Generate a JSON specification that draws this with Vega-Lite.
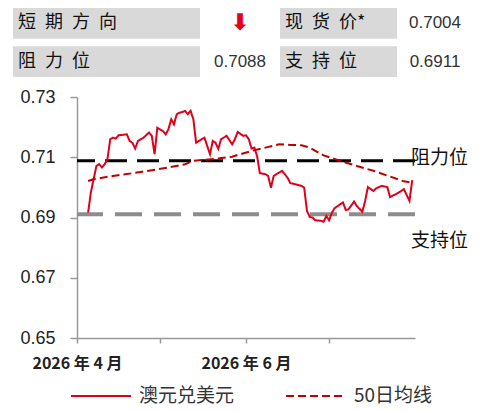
{
  "$schema": "https://vega.github.io/schema/vega-lite/v6.json",
  "padding": {"left": 13, "top": 8, "right": 0, "bottom": 0},
  "background": "white",
  "config": {"view": {"stroke": null}, "font": "Noto Sans CJK SC"},
  "datasets": {
    "table": [
      {"col": "c1", "row": "r1", "text": "短\u2002期\u2002方\u2002向"},
      {"col": "c1", "row": "r2", "text": "阻\u2002力\u2002位"},
      {"col": "c2", "row": "r1", "text": "⬇"},
      {"col": "c2", "row": "r2", "text": "0.7088"},
      {"col": "c3", "row": "r1", "text": "现\u2002货\u2002价*"},
      {"col": "c3", "row": "r2", "text": "支\u2002持\u2002位"},
      {"col": "c4", "row": "r1", "text": "0.7004"},
      {"col": "c4", "row": "r2", "text": "0.6911"}
    ],
    "levels": [
      {"name": "阻力位", "value": 0.7088},
      {"name": "支持位", "value": 0.6911}
    ],
    "lines": [
      {"series": "澳元兑美元", "date": "2026-04-05", "value": 0.6916},
      {"series": "澳元兑美元", "date": "2026-04-06", "value": 0.6983},
      {"series": "澳元兑美元", "date": "2026-04-07", "value": 0.7027},
      {"series": "澳元兑美元", "date": "2026-04-08", "value": 0.7071},
      {"series": "澳元兑美元", "date": "2026-04-09", "value": 0.7077},
      {"series": "澳元兑美元", "date": "2026-04-10", "value": 0.7066},
      {"series": "澳元兑美元", "date": "2026-04-11", "value": 0.7077},
      {"series": "澳元兑美元", "date": "2026-04-12", "value": 0.7095},
      {"series": "澳元兑美元", "date": "2026-04-13", "value": 0.7160},
      {"series": "澳元兑美元", "date": "2026-04-14", "value": 0.7165},
      {"series": "澳元兑美元", "date": "2026-04-15", "value": 0.7162},
      {"series": "澳元兑美元", "date": "2026-04-16", "value": 0.7173},
      {"series": "澳元兑美元", "date": "2026-04-18", "value": 0.7175},
      {"series": "澳元兑美元", "date": "2026-04-19", "value": 0.7176},
      {"series": "澳元兑美元", "date": "2026-04-20", "value": 0.7154},
      {"series": "澳元兑美元", "date": "2026-04-21", "value": 0.7148},
      {"series": "澳元兑美元", "date": "2026-04-22", "value": 0.7129},
      {"series": "澳元兑美元", "date": "2026-04-23", "value": 0.7154},
      {"series": "澳元兑美元", "date": "2026-04-25", "value": 0.7165},
      {"series": "澳元兑美元", "date": "2026-04-27", "value": 0.7182},
      {"series": "澳元兑美元", "date": "2026-04-28", "value": 0.7171},
      {"series": "澳元兑美元", "date": "2026-04-29", "value": 0.7110},
      {"series": "澳元兑美元", "date": "2026-04-30", "value": 0.7198},
      {"series": "澳元兑美元", "date": "2026-05-02", "value": 0.7187},
      {"series": "澳元兑美元", "date": "2026-05-03", "value": 0.7176},
      {"series": "澳元兑美元", "date": "2026-05-04", "value": 0.7193},
      {"series": "澳元兑美元", "date": "2026-05-05", "value": 0.7226},
      {"series": "澳元兑美元", "date": "2026-05-06", "value": 0.7209},
      {"series": "澳元兑美元", "date": "2026-05-07", "value": 0.7243},
      {"series": "澳元兑美元", "date": "2026-05-08", "value": 0.7248},
      {"series": "澳元兑美元", "date": "2026-05-09", "value": 0.7250},
      {"series": "澳元兑美元", "date": "2026-05-10", "value": 0.7254},
      {"series": "澳元兑美元", "date": "2026-05-11", "value": 0.7243},
      {"series": "澳元兑美元", "date": "2026-05-12", "value": 0.7254},
      {"series": "澳元兑美元", "date": "2026-05-13", "value": 0.7226},
      {"series": "澳元兑美元", "date": "2026-05-14", "value": 0.7148},
      {"series": "澳元兑美元", "date": "2026-05-16", "value": 0.7160},
      {"series": "澳元兑美元", "date": "2026-05-17", "value": 0.7165},
      {"series": "澳元兑美元", "date": "2026-05-19", "value": 0.7110},
      {"series": "澳元兑美元", "date": "2026-05-20", "value": 0.7154},
      {"series": "澳元兑美元", "date": "2026-05-21", "value": 0.7148},
      {"series": "澳元兑美元", "date": "2026-05-22", "value": 0.7128},
      {"series": "澳元兑美元", "date": "2026-05-23", "value": 0.7160},
      {"series": "澳元兑美元", "date": "2026-05-25", "value": 0.7171},
      {"series": "澳元兑美元", "date": "2026-05-27", "value": 0.7143},
      {"series": "澳元兑美元", "date": "2026-05-28", "value": 0.7160},
      {"series": "澳元兑美元", "date": "2026-05-29", "value": 0.7184},
      {"series": "澳元兑美元", "date": "2026-05-31", "value": 0.7171},
      {"series": "澳元兑美元", "date": "2026-06-01", "value": 0.7173},
      {"series": "澳元兑美元", "date": "2026-06-02", "value": 0.7160},
      {"series": "澳元兑美元", "date": "2026-06-03", "value": 0.7129},
      {"series": "澳元兑美元", "date": "2026-06-04", "value": 0.7132},
      {"series": "澳元兑美元", "date": "2026-06-05", "value": 0.7104},
      {"series": "澳元兑美元", "date": "2026-06-06", "value": 0.7047},
      {"series": "澳元兑美元", "date": "2026-06-08", "value": 0.7044},
      {"series": "澳元兑美元", "date": "2026-06-09", "value": 0.7038},
      {"series": "澳元兑美元", "date": "2026-06-10", "value": 0.6999},
      {"series": "澳元兑美元", "date": "2026-06-11", "value": 0.7038},
      {"series": "澳元兑美元", "date": "2026-06-12", "value": 0.7044},
      {"series": "澳元兑美元", "date": "2026-06-14", "value": 0.7055},
      {"series": "澳元兑美元", "date": "2026-06-16", "value": 0.7032},
      {"series": "澳元兑美元", "date": "2026-06-17", "value": 0.7014},
      {"series": "澳元兑美元", "date": "2026-06-19", "value": 0.7010},
      {"series": "澳元兑美元", "date": "2026-06-21", "value": 0.7005},
      {"series": "澳元兑美元", "date": "2026-06-22", "value": 0.6999},
      {"series": "澳元兑美元", "date": "2026-06-23", "value": 0.6922},
      {"series": "澳元兑美元", "date": "2026-06-24", "value": 0.6902},
      {"series": "澳元兑美元", "date": "2026-06-25", "value": 0.6900},
      {"series": "澳元兑美元", "date": "2026-06-26", "value": 0.6891},
      {"series": "澳元兑美元", "date": "2026-06-28", "value": 0.6889},
      {"series": "澳元兑美元", "date": "2026-06-29", "value": 0.6886},
      {"series": "澳元兑美元", "date": "2026-06-30", "value": 0.6905},
      {"series": "澳元兑美元", "date": "2026-07-01", "value": 0.6891},
      {"series": "澳元兑美元", "date": "2026-07-02", "value": 0.6916},
      {"series": "澳元兑美元", "date": "2026-07-03", "value": 0.6931},
      {"series": "澳元兑美元", "date": "2026-07-05", "value": 0.6944},
      {"series": "澳元兑美元", "date": "2026-07-06", "value": 0.6950},
      {"series": "澳元兑美元", "date": "2026-07-07", "value": 0.6925},
      {"series": "澳元兑美元", "date": "2026-07-08", "value": 0.6927},
      {"series": "澳元兑美元", "date": "2026-07-10", "value": 0.6953},
      {"series": "澳元兑美元", "date": "2026-07-11", "value": 0.6938},
      {"series": "澳元兑美元", "date": "2026-07-13", "value": 0.6919},
      {"series": "澳元兑美元", "date": "2026-07-14", "value": 0.6955},
      {"series": "澳元兑美元", "date": "2026-07-15", "value": 0.7001},
      {"series": "澳元兑美元", "date": "2026-07-17", "value": 0.6988},
      {"series": "澳元兑美元", "date": "2026-07-18", "value": 0.6997},
      {"series": "澳元兑美元", "date": "2026-07-20", "value": 0.7005},
      {"series": "澳元兑美元", "date": "2026-07-22", "value": 0.7001},
      {"series": "澳元兑美元", "date": "2026-07-23", "value": 0.6968},
      {"series": "澳元兑美元", "date": "2026-07-25", "value": 0.6977},
      {"series": "澳元兑美元", "date": "2026-07-27", "value": 0.6988},
      {"series": "澳元兑美元", "date": "2026-07-28", "value": 0.6994},
      {"series": "澳元兑美元", "date": "2026-07-30", "value": 0.6955},
      {"series": "澳元兑美元", "date": "2026-07-31", "value": 0.7024},
      {"series": "50日均线", "date": "2026-04-05", "value": 0.7021},
      {"series": "50日均线", "date": "2026-04-07", "value": 0.7027},
      {"series": "50日均线", "date": "2026-04-12", "value": 0.7035},
      {"series": "50日均线", "date": "2026-04-24", "value": 0.7051},
      {"series": "50日均线", "date": "2026-05-04", "value": 0.7066},
      {"series": "50日均线", "date": "2026-05-10", "value": 0.7077},
      {"series": "50日均线", "date": "2026-05-13", "value": 0.7088},
      {"series": "50日均线", "date": "2026-05-21", "value": 0.7095},
      {"series": "50日均线", "date": "2026-05-27", "value": 0.7102},
      {"series": "50日均线", "date": "2026-06-03", "value": 0.7121},
      {"series": "50日均线", "date": "2026-06-08", "value": 0.7132},
      {"series": "50日均线", "date": "2026-06-13", "value": 0.7143},
      {"series": "50日均线", "date": "2026-06-17", "value": 0.7141},
      {"series": "50日均线", "date": "2026-06-21", "value": 0.7140},
      {"series": "50日均线", "date": "2026-06-24", "value": 0.7132},
      {"series": "50日均线", "date": "2026-06-29", "value": 0.7106},
      {"series": "50日均线", "date": "2026-07-05", "value": 0.7088},
      {"series": "50日均线", "date": "2026-07-09", "value": 0.7077},
      {"series": "50日均线", "date": "2026-07-11", "value": 0.7071},
      {"series": "50日均线", "date": "2026-07-17", "value": 0.7055},
      {"series": "50日均线", "date": "2026-07-23", "value": 0.7036},
      {"series": "50日均线", "date": "2026-07-28", "value": 0.7020},
      {"series": "50日均线", "date": "2026-07-31", "value": 0.7016}
    ]
  },
  "vconcat": [
    {
      "hconcat": [
        {
          "width": 187, "height": 69,
          "data": {"name": "table"},
          "transform": [{"filter": "datum.col == 'c1'"}],
          "encoding": {
            "y": {"field": "row", "type": "nominal", "axis": null, "scale": {"type": "band", "paddingInner": 0.2, "paddingOuter": 0}},
            "x": {"field": "col", "type": "nominal", "axis": null, "scale": {"type": "band", "paddingInner": 0, "paddingOuter": 0}}
          },
          "layer": [
            {"mark": {"type": "rect", "color": "#d9d9d9"}},
            {"mark": {"type": "text", "align": "left", "dx": 5, "fontSize": 18, "font": "Noto Sans CJK SC", "color": "#111"},
             "encoding": {"x": {"field": "col", "type": "nominal", "bandPosition": 0, "axis": null}, "text": {"field": "text"}}}
          ]
        },
        {
          "width": 80, "height": 69,
          "data": {"name": "table"},
          "transform": [{"filter": "datum.col == 'c2'"}],
          "encoding": {
            "y": {"field": "row", "type": "nominal", "axis": null, "scale": {"type": "band", "paddingInner": 0.2, "paddingOuter": 0}},
            "x": {"field": "col", "type": "nominal", "axis": null, "scale": {"type": "band", "paddingInner": 0, "paddingOuter": 0}},
            "text": {"field": "text"}
          },
          "layer": [
            {"transform": [{"filter": "datum.row == 'r1'"}],
             "mark": {"type": "text", "fontSize": 23, "fontWeight": "bold", "font": "DejaVu Sans", "color": "#e3001b"}},
            {"transform": [{"filter": "datum.row == 'r2'"}],
             "mark": {"type": "text", "fontSize": 17, "font": "Liberation Sans", "color": "#333"}}
          ]
        },
        {
          "width": 117, "height": 69,
          "data": {"name": "table"},
          "transform": [{"filter": "datum.col == 'c3'"}],
          "encoding": {
            "y": {"field": "row", "type": "nominal", "axis": null, "scale": {"type": "band", "paddingInner": 0.2, "paddingOuter": 0}},
            "x": {"field": "col", "type": "nominal", "axis": null, "scale": {"type": "band", "paddingInner": 0, "paddingOuter": 0}}
          },
          "layer": [
            {"mark": {"type": "rect", "color": "#d9d9d9"}},
            {"mark": {"type": "text", "align": "left", "dx": 5, "fontSize": 18, "font": "Noto Sans CJK SC", "color": "#111"},
             "encoding": {"x": {"field": "col", "type": "nominal", "bandPosition": 0, "axis": null}, "text": {"field": "text"}}}
          ]
        },
        {
          "width": 76, "height": 69,
          "data": {"name": "table"},
          "transform": [{"filter": "datum.col == 'c4'"}],
          "encoding": {
            "y": {"field": "row", "type": "nominal", "axis": null, "scale": {"type": "band", "paddingInner": 0.2, "paddingOuter": 0}},
            "x": {"field": "col", "type": "nominal", "axis": null, "scale": {"type": "band", "paddingInner": 0, "paddingOuter": 0}},
            "text": {"field": "text"}
          },
          "mark": {"type": "text", "fontSize": 17, "font": "Liberation Sans", "color": "#333"}
        }
      ],
      "spacing": 0
    },
    {
      "hconcat": [
        {
          "width": 1, "height": 1,
          "data": {"values": []},
          "mark": {"type": "point", "opacity": 0},
          "encoding": {}
        },
        {
          "width": 338, "height": 241,
          "layer": [
            {
              "data": {"name": "levels"},
              "transform": [{"filter": "datum.name == '支持位'"}],
              "mark": {"type": "rule", "color": "#8c8c8c", "strokeWidth": 4, "strokeDash": [27, 12]},
              "encoding": {"y": {"field": "value", "type": "quantitative", "scale": {"domain": [0.65, 0.73]}}}
            },
            {
              "data": {"name": "levels"},
              "transform": [{"filter": "datum.name == '阻力位'"}],
              "mark": {"type": "rule", "color": "#000000", "strokeWidth": 3, "strokeDash": [22, 10]},
              "encoding": {"y": {"field": "value", "type": "quantitative"}}
            },
            {
              "data": {"name": "lines"},
              "mark": {"type": "line", "strokeWidth": 2},
              "encoding": {
                "x": {
                  "field": "date", "type": "temporal",
                  "scale": {"domain": [{"year": 2026, "month": 4, "date": 1}, {"year": 2026, "month": 8, "date": 1}]},
                  "axis": {
                    "title": null,
                    "values": [{"year": 2026, "month": 4, "date": 1}, {"year": 2026, "month": 5, "date": 1}, {"year": 2026, "month": 6, "date": 1}, {"year": 2026, "month": 7, "date": 1}],
                    "labelExpr": "month(datum.value) % 2 == 1 ? year(datum.value) + ' 年 ' + (month(datum.value) + 1) + ' 月' : ''",
                    "labelFont": "Noto Sans CJK SC", "labelFontSize": 16, "labelFontWeight": "bold", "labelColor": "#222",
                    "labelPadding": 12, "tickSize": 5, "tickColor": "#999", "domainColor": "#999", "domainWidth": 1.5, "tickWidth": 1.5,
                    "grid": false, "labelAlign": "center"
                  }
                },
                "y": {
                  "field": "value", "type": "quantitative",
                  "axis": {
                    "title": null, "values": [0.65, 0.67, 0.69, 0.71, 0.73], "format": ".2f",
                    "labelFont": "Liberation Sans", "labelFontSize": 18, "labelColor": "#222",
                    "labelPadding": 15, "tickSize": 7, "tickColor": "#999", "domainColor": "#999", "domainWidth": 1.5, "tickWidth": 1.5,
                    "grid": false, "minExtent": 63
                  }
                },
                "color": {
                  "field": "series", "type": "nominal",
                  "scale": {"domain": ["澳元兑美元", "50日均线"], "range": ["#e0001b", "#c00000"]},
                  "legend": {
                    "title": null, "orient": "none", "legendX": 57, "legendY": 357, "direction": "horizontal",
                    "symbolType": "stroke", "symbolSize": 3600, "symbolStrokeWidth": 2,
                    "labelFont": "Noto Sans CJK SC", "labelFontSize": 19, "labelColor": "#333",
                    "columnPadding": 47, "labelOffset": 7
                  }
                },
                "strokeDash": {
                  "field": "series", "type": "nominal",
                  "scale": {"domain": ["澳元兑美元", "50日均线"], "range": [[1, 0], [8, 4]]},
                  "legend": {
                    "title": null, "orient": "none", "legendX": 57, "legendY": 357, "direction": "horizontal",
                    "symbolType": "stroke", "symbolSize": 3600, "symbolStrokeWidth": 2,
                    "labelFont": "Noto Sans CJK SC", "labelFontSize": 19, "labelColor": "#333",
                    "columnPadding": 47, "labelOffset": 7
                  }
                }
              }
            },
            {
              "data": {"name": "levels"},
              "transform": [{"filter": "datum.name == '阻力位'"}],
              "mark": {"type": "text", "align": "left", "baseline": "middle", "dx": -4, "dy": -3, "fontSize": 19, "font": "Noto Sans CJK SC", "color": "#111"},
              "encoding": {
                "x": {"datum": {"year": 2026, "month": 8, "date": 1}, "type": "temporal"},
                "y": {"field": "value", "type": "quantitative"},
                "text": {"field": "name"}
              }
            },
            {
              "data": {"name": "levels"},
              "transform": [{"filter": "datum.name == '支持位'"}],
              "mark": {"type": "text", "align": "left", "baseline": "middle", "dx": -4, "dy": 27, "fontSize": 19, "font": "Noto Sans CJK SC", "color": "#111"},
              "encoding": {
                "x": {"datum": {"year": 2026, "month": 8, "date": 1}, "type": "temporal"},
                "y": {"field": "value", "type": "quantitative"},
                "text": {"field": "name"}
              }
            }
          ]
        }
      ],
      "spacing": 0
    }
  ],
  "spacing": 11
}
